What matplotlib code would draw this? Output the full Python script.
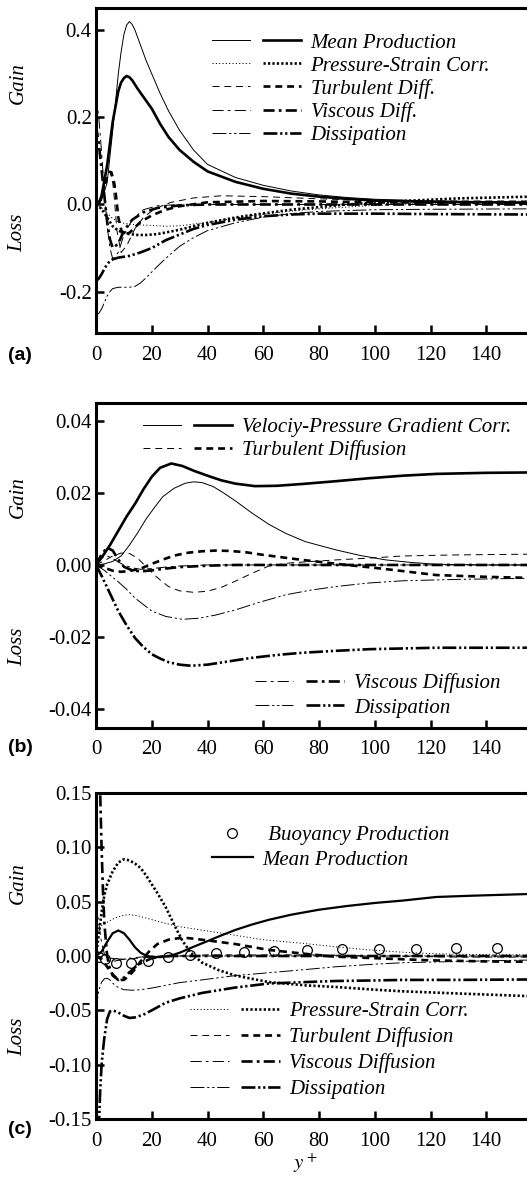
import matplotlib
matplotlib.use("Agg")
import matplotlib.pyplot as plt
from matplotlib.legend_handler import HandlerTuple
from matplotlib.ticker import FormatStrFormatter

plt.rcParams['font.family'] = ['Liberation Serif', 'DejaVu Serif']
plt.rcParams['mathtext.fontset'] = 'stix'
plt.rcParams['axes.unicode_minus'] = False
plt.rcParams['lines.scale_dashes'] = False

# ---------------- panel (a) data ----------------
a_prod_thin_x = [0, 2, 4, 6, 8, 9, 10, 11, 12, 13, 14, 16, 18, 20, 23, 26, 30, 35, 40, 50, 60, 70, 80, 90, 100, 120, 140, 156]
a_prod_thin_y = [0, 0.01, 0.05, 0.17, 0.30, 0.35, 0.39, 0.412, 0.42, 0.413, 0.40, 0.365, 0.33, 0.30, 0.255, 0.215,
                 0.17, 0.125, 0.092, 0.062, 0.044, 0.031, 0.022, 0.016, 0.012, 0.008, 0.006, 0.005]
a_prod_thick_x = [0, 1, 2, 4, 6, 8, 9, 10, 11, 12, 13, 15, 17, 20, 23, 26, 30, 35, 40, 50, 60, 70, 80, 90, 100, 120, 140, 156]
a_prod_thick_y = [0, 0.003, 0.02, 0.09, 0.19, 0.26, 0.28, 0.29, 0.295, 0.292, 0.285, 0.265, 0.247, 0.22, 0.185,
                  0.155, 0.125, 0.098, 0.076, 0.052, 0.036, 0.025, 0.018, 0.013, 0.009, 0.006, 0.005, 0.004]

a_ps_thin_x = [0, 2, 4, 6, 8, 10, 12, 16, 20, 25, 30, 40, 50, 60, 70, 80, 90, 100, 115, 130, 156]
a_ps_thin_y = [0, -0.008, -0.02, -0.032, -0.04, -0.043, -0.045, -0.047, -0.048, -0.05, -0.049, -0.041, -0.031,
               -0.022, -0.015, -0.01, -0.006, -0.002, 0.002, 0.005, 0.008]
a_ps_thick_x = [0, 2, 4, 6, 8, 10, 12, 15, 18, 22, 26, 30, 35, 40, 50, 55, 70, 90, 110, 130, 156]
a_ps_thick_y = [0, -0.01, -0.03, -0.05, -0.06, -0.065, -0.068, -0.07, -0.07, -0.068, -0.063, -0.058, -0.05,
                -0.042, -0.03, -0.025, -0.012, 0.0, 0.008, 0.014, 0.018]

a_turb_thin_x = [0, 1, 2, 3, 4, 5, 6, 6.5, 7.5, 9, 11, 14, 17, 20, 24, 27, 35, 45, 60, 80, 100, 130, 156]
a_turb_thin_y = [0, 0.003, 0.015, 0.04, 0.068, 0.076, 0.05, 0.02, -0.06, -0.11, -0.095, -0.055, -0.03, -0.015,
                 -0.002, 0.005, 0.015, 0.02, 0.018, 0.013, 0.009, 0.008, 0.008]
a_turb_thick_x = [0, 1, 2, 3, 4, 5, 5.5, 6.5, 7, 8, 9.5, 12, 16, 20, 25, 30, 40, 60, 80, 100, 130, 156]
a_turb_thick_y = [0, 0.003, 0.015, 0.04, 0.065, 0.075, 0.074, 0.05, 0.03, -0.03, -0.07, -0.065, -0.04, -0.025,
                  -0.012, -0.004, 0.005, 0.008, 0.007, 0.005, 0.004, 0.004]

a_visc_thin_x = [0, 1, 2, 3, 4, 5, 6, 8, 10, 13, 17, 22, 30, 156]
a_visc_thin_y = [0.25, 0.2, 0.12, 0.03, -0.05, -0.1, -0.125, -0.11, -0.07, -0.035, -0.012, -0.003, 0, 0]
a_visc_thick_x = [0, 1, 2, 3, 4, 5, 6, 8, 10, 13, 17, 22, 30, 40, 156]
a_visc_thick_y = [0.18, 0.14, 0.08, 0.02, -0.04, -0.08, -0.1, -0.09, -0.06, -0.035, -0.018, -0.008, -0.002, 0, 0]

a_diss_thin_x = [0, 1, 2, 3, 4, 5, 6, 8, 10, 12, 14, 16, 18, 20, 23, 26, 30, 35, 40, 50, 60, 70, 80, 100, 120, 156]
a_diss_thin_y = [-0.252, -0.25, -0.24, -0.225, -0.21, -0.2, -0.193, -0.19, -0.19, -0.19, -0.188, -0.18, -0.168,
                 -0.155, -0.136, -0.118, -0.096, -0.076, -0.06, -0.042, -0.029, -0.021, -0.016, -0.012, -0.011, -0.01]
a_diss_thick_x = [0, 1, 2, 3, 4, 5, 6, 8, 10, 12, 14, 16, 20, 25, 30, 35, 40, 50, 60, 70, 80, 100, 120, 156]
a_diss_thick_y = [-0.176, -0.17, -0.16, -0.148, -0.137, -0.13, -0.126, -0.122, -0.12, -0.118, -0.114, -0.11,
                  -0.1, -0.082, -0.069, -0.056, -0.047, -0.035, -0.027, -0.023, -0.021, -0.021, -0.022, -0.023]

# ---------------- panel (b) data ----------------
b_vpg_thin_x = [0, 3, 6, 9, 12, 15, 18, 21, 24, 28, 32, 35, 38, 42, 46, 50, 56, 62, 68, 75, 86, 95, 104, 113, 122, 140, 156]
b_vpg_thin_y = [0, 0.0003, 0.001, 0.0025, 0.0055, 0.009, 0.0128, 0.016, 0.019, 0.0213, 0.0227, 0.0231, 0.0229,
                0.0218, 0.0199, 0.0178, 0.0144, 0.0113, 0.0088, 0.0065, 0.0042, 0.0026, 0.0014, 0.0007, 0.0002, 0.0, 0.0]
b_vpg_thick_x = [0, 2, 5, 8, 11, 14, 17, 20, 23, 27, 31, 35, 40, 45, 50, 57, 65, 74, 85, 98, 110, 122, 140, 156]
b_vpg_thick_y = [0, 0.002, 0.0055, 0.0095, 0.0135, 0.017, 0.021, 0.0245, 0.027, 0.0282, 0.0275, 0.0262, 0.0248,
                 0.0235, 0.0226, 0.0219, 0.022, 0.0225, 0.0232, 0.0241, 0.0248, 0.0253, 0.0256, 0.0257]

b_turb_thin_x = [0, 3, 6, 9, 12, 15, 18, 22, 26, 30, 35, 40, 45, 50, 56, 62, 70, 86, 100, 110, 130, 156]
b_turb_thin_y = [0, 0.0012, 0.0025, 0.0033, 0.0032, 0.0018, -0.0005, -0.0035, -0.006, -0.0072, -0.0076, -0.0073,
                 -0.0062, -0.0045, -0.0023, -0.0003, 0.0006, 0.0014, 0.002, 0.0025, 0.0028, 0.003]
b_turb_thick_x = [0, 3, 6, 9, 12, 16, 20, 24, 28, 33, 38, 43, 48, 54, 60, 67, 74, 82, 90, 100, 110, 122, 140, 156]
b_turb_thick_y = [0, -0.0008, -0.0016, -0.0019, -0.0017, -0.001, 0.0003, 0.0015, 0.0026, 0.0034, 0.0038, 0.004,
                  0.0039, 0.0035, 0.0028, 0.0021, 0.0014, 0.0007, 0.0, -0.0008, -0.0017, -0.0028, -0.0033, -0.0036]

b_visc_thin_x = [0, 2, 4, 6, 8, 10, 13, 16, 20, 25, 30, 40, 156]
b_visc_thin_y = [0, 0.002, 0.0025, 0.0018, 0.0008, 0, -0.0008, -0.0012, -0.001, -0.0006, -0.0003, 0, 0]
b_visc_thick_x = [0, 2, 4, 6, 8, 10, 13, 16, 20, 25, 30, 40, 50, 156]
b_visc_thick_y = [0, 0.003, 0.0048, 0.004, 0.0015, -0.0005, -0.0015, -0.0018, -0.0015, -0.001, -0.0006, -0.0002, 0, 0]

b_diss_thin_x = [0, 3, 5, 8, 11, 14, 17, 20, 25, 31, 37, 43, 50, 58, 68, 77, 86, 98, 110, 130, 156]
b_diss_thin_y = [0, -0.0015, -0.0028, -0.0047, -0.0068, -0.0092, -0.011, -0.0128, -0.0143, -0.0151, -0.0148,
                 -0.0139, -0.0125, -0.0105, -0.0083, -0.007, -0.006, -0.005, -0.0044, -0.004, -0.0037]
b_diss_thick_x = [0, 2, 5, 8, 11, 14, 17, 20, 23, 26, 30, 34, 40, 45, 50, 56, 65, 74, 85, 98, 110, 122, 140, 156]
b_diss_thick_y = [0, -0.003, -0.0079, -0.0128, -0.0168, -0.0203, -0.0228, -0.0248, -0.026, -0.027, -0.0277, -0.028,
                  -0.0277, -0.0271, -0.0265, -0.0258, -0.025, -0.0244, -0.0239, -0.0234, -0.0232, -0.023, -0.023, -0.023]

# ---------------- panel (c) data ----------------
c_buoy_x = [0, 1.2, 3.4, 7.3, 12.4, 18.5, 25.7, 33.8, 43.1, 53.1, 64, 75.8, 88.2, 101.5, 114.9, 129.1, 143.8]
c_buoy_y = [0, -0.001, -0.003, -0.0062, -0.006, -0.0046, -0.0012, 0.0006, 0.003, 0.004, 0.005, 0.0058, 0.0062,
            0.0065, 0.0068, 0.007, 0.0073]

c_prod_x = [0, 2, 4, 6, 8, 10, 12, 14, 16, 18, 20, 23, 26, 30, 35, 40, 45, 50, 56, 62, 70, 80, 90, 100, 110, 122, 135, 156]
c_prod_y = [0, 0.004, 0.013, 0.021, 0.0235, 0.021, 0.015, 0.008, 0.003, 0.0003, -0.0008, -0.001, -0.0003, 0.003,
            0.0085, 0.0137, 0.019, 0.024, 0.029, 0.0333, 0.038, 0.0426, 0.046, 0.0488, 0.051, 0.0543, 0.0555, 0.0571]

c_ps_thin_x = [0, 2, 4, 6, 8, 10, 12, 15, 20, 25, 30, 40, 50, 60, 74, 86, 98, 110, 122, 140, 156]
c_ps_thin_y = [0.02, 0.028, 0.031, 0.034, 0.036, 0.0375, 0.038, 0.037, 0.0335, 0.030, 0.027, 0.023, 0.019, 0.015,
               0.0117, 0.0085, 0.0056, 0.0035, 0.002, 0.0012, 0.001]
c_ps_thick_x = [0, 1, 2, 3, 4, 6, 8, 10, 12, 14, 16, 18, 20, 22, 25, 28, 31, 34, 38, 44, 50, 62, 75, 86, 100, 110, 130, 156]
c_ps_thick_y = [0.0, 0.02, 0.04, 0.056, 0.066, 0.078, 0.086, 0.089, 0.088, 0.085, 0.081, 0.074, 0.066, 0.058,
                0.045, 0.029, 0.014, 0.003, -0.006, -0.013, -0.018, -0.024, -0.027, -0.0285, -0.031, -0.0325,
                -0.0345, -0.037]

c_turb_thin_x = [0, 5, 10, 15, 20, 30, 40, 60, 80, 100, 130, 156]
c_turb_thin_y = [0, -0.002, -0.003, -0.002, -0.001, 0, 0.001, 0.001, 0.001, 0.0, -0.001, -0.001]
c_turb_thick_x = [0, 2, 4, 6, 8, 10, 12, 14, 16, 19, 22, 26, 30, 33, 38, 44, 50, 62, 75, 86, 100, 120, 140, 156]
c_turb_thick_y = [0, -0.003, -0.01, -0.017, -0.022, -0.022, -0.018, -0.012, -0.005, 0.004, 0.011, 0.015, 0.0165,
                  0.0165, 0.015, 0.013, 0.011, 0.0056, 0.002, -0.0006, -0.002, -0.004, -0.005, -0.0053]

c_visc_thin_x = [0, 1, 2, 3, 4, 6, 8, 12, 16, 20, 30, 156]
c_visc_thin_y = [0.05, 0.03, 0.012, 0.002, -0.004, -0.005, -0.004, -0.002, -0.001, 0, 0, 0]
c_visc_thick_x = [0, 1, 1.5, 2, 2.5, 3, 4, 5, 6, 8, 10, 12, 15, 20, 25, 30, 156]
c_visc_thick_y = [0.25, 0.2, 0.15, 0.1, 0.06, 0.03, 0.0, -0.012, -0.018, -0.022, -0.02, -0.015, -0.008, -0.002, 0, 0, 0]

c_diss_thin_x = [0, 0.5, 1, 2, 3, 4, 5, 6, 8, 10, 13, 16, 20, 25, 30, 38, 50, 62, 75, 86, 100, 110, 130, 156]
c_diss_thin_y = [-0.05, -0.04, -0.032, -0.024, -0.021, -0.0205, -0.022, -0.025, -0.029, -0.031, -0.0315, -0.031,
                 -0.0295, -0.027, -0.0245, -0.022, -0.018, -0.0154, -0.0125, -0.0099, -0.0075, -0.0062, -0.005, -0.0037]
c_diss_thick_x = [0, 0.5, 1, 1.5, 2, 2.5, 3, 4, 5, 6, 8, 10, 12, 14, 17, 20, 25, 30, 38, 50, 62, 75, 86, 100, 110, 130, 156]
c_diss_thick_y = [-0.25, -0.2, -0.16, -0.124, -0.1, -0.087, -0.075, -0.058, -0.051, -0.05, -0.052, -0.055, -0.057,
                  -0.0565, -0.054, -0.05, -0.043, -0.039, -0.034, -0.029, -0.0253, -0.024, -0.023, -0.0225, -0.022,
                  -0.022, -0.0216]

xticks = [0, 20, 40, 60, 80, 100, 120, 140]

# line styles (dash lengths in points)
THIN = 0.7
THICK = 1.9
dot_thin = (0, (0.8, 1.6))
dot_thick = (0, (1.6, 1.6))
dash = (0, (5, 3.5))
dashdot = (0, (8, 3, 2, 3))
dashdotdot = (0, (10, 2, 1.6, 2, 1.6, 2))

W, H = 527, 1182
fig = plt.figure(figsize=(W / 100, H / 100), dpi=100)


def add_panel(top, bottom):
    return fig.add_axes([96 / W, 1 - bottom / H, (W - 96) / W + 0.01, (bottom - top) / H])


def style(ax, ylim, yticks, fmt):
    ax.set_xlim(0, 156.5)
    ax.set_ylim(*ylim)
    ax.set_xticks(xticks)
    ax.set_yticks(yticks)
    ax.yaxis.set_major_formatter(FormatStrFormatter(fmt))
    ax.spines['right'].set_visible(False)
    for s in ['left', 'bottom', 'top']:
        ax.spines[s].set_linewidth(2.2)
    ax.tick_params(direction='in', length=6, width=1.8, labelsize=15, top=False, right=False)
    ax.tick_params(axis='x', pad=9)
    ax.tick_params(axis='y', pad=3)


def pair(ax, xt, yt, xk, yk, ls_thin, ls_thick=None):
    if ls_thick is None:
        ls_thick = ls_thin
    l1, = ax.plot(xt, yt, color='black', lw=THIN, linestyle=ls_thin)
    l2, = ax.plot(xk, yk, color='black', lw=THICK, linestyle=ls_thick)
    return (l1, l2)


def leg_kw(spacing):
    return dict(frameon=False, borderpad=0, borderaxespad=0, handletextpad=0.45, labelspacing=spacing,
                prop={'family': 'Liberation Serif', 'style': 'italic', 'size': 15})


tuple_map = {tuple: HandlerTuple(ndivide=None, pad=0.6)}

# ---------------- panel (a) ----------------
ax = add_panel(8, 333)
h_prod = pair(ax, a_prod_thin_x, a_prod_thin_y, a_prod_thick_x, a_prod_thick_y, '-')
h_ps = pair(ax, a_ps_thin_x, a_ps_thin_y, a_ps_thick_x, a_ps_thick_y, dot_thin, dot_thick)
h_turb = pair(ax, a_turb_thin_x, a_turb_thin_y, a_turb_thick_x, a_turb_thick_y, dash)
h_visc = pair(ax, a_visc_thin_x, a_visc_thin_y, a_visc_thick_x, a_visc_thick_y, dashdot)
h_diss = pair(ax, a_diss_thin_x, a_diss_thin_y, a_diss_thick_x, a_diss_thick_y, dashdotdot)
style(ax, (-0.295, 0.451), [-0.2, 0.0, 0.2, 0.4], '%.1f')
ax.legend([h_prod, h_ps, h_turb, h_visc, h_diss],
          ['Mean Production', 'Pressure-Strain Corr.', 'Turbulent Diff.', 'Viscous Diff.', 'Dissipation'],
          loc='upper left', bbox_to_anchor=(0.265, 0.923), handlelength=4.3, handler_map=tuple_map,
          **leg_kw(0.16))

# ---------------- panel (b) ----------------
ax = add_panel(403, 728)
h_vpg = pair(ax, b_vpg_thin_x, b_vpg_thin_y, b_vpg_thick_x, b_vpg_thick_y, '-')
h_turb = pair(ax, b_turb_thin_x, b_turb_thin_y, b_turb_thick_x, b_turb_thick_y, dash)
h_visc = pair(ax, b_visc_thin_x, b_visc_thin_y, b_visc_thick_x, b_visc_thick_y, dashdot)
h_diss = pair(ax, b_diss_thin_x, b_diss_thin_y, b_diss_thick_x, b_diss_thick_y, dashdotdot)
style(ax, (-0.0453, 0.045), [-0.04, -0.02, 0.0, 0.02, 0.04], '%.2f')
leg1 = ax.legend([h_vpg, h_turb], ['Velociy-Pressure Gradient Corr.', 'Turbulent Diffusion'],
                 loc='upper left', bbox_to_anchor=(0.107, 0.955), handlelength=4.3, handler_map=tuple_map,
                 **leg_kw(0.16))
ax.add_artist(leg1)
ax.legend([h_visc, h_diss], ['Viscous Diffusion', 'Dissipation'],
          loc='upper left', bbox_to_anchor=(0.364, 0.169), handlelength=4.3, handler_map=tuple_map,
          **leg_kw(0.25))

# ---------------- panel (c) ----------------
ax = add_panel(793, 1119)
h_buoy, = ax.plot(c_buoy_x, c_buoy_y, linestyle='none', marker='o', ms=7, mfc='white', mec='black', mew=0.9)
h_mp, = ax.plot(c_prod_x, c_prod_y, color='black', lw=1.6)
h_ps = pair(ax, c_ps_thin_x, c_ps_thin_y, c_ps_thick_x, c_ps_thick_y, dot_thin, dot_thick)
h_turb = pair(ax, c_turb_thin_x, c_turb_thin_y, c_turb_thick_x, c_turb_thick_y, dash)
h_visc = pair(ax, c_visc_thin_x, c_visc_thin_y, c_visc_thick_x, c_visc_thick_y, dashdot)
h_diss = pair(ax, c_diss_thin_x, c_diss_thin_y, c_diss_thick_x, c_diss_thick_y, dashdotdot)
style(ax, (-0.15, 0.15), [-0.15, -0.10, -0.05, 0.0, 0.05, 0.10, 0.15], '%.2f')
leg1 = ax.legend([h_buoy, h_mp], [' Buoyancy Production', 'Mean Production'],
                 loc='upper left', bbox_to_anchor=(0.265, 0.901), handlelength=2.0, **leg_kw(0.25))
ax.add_artist(leg1)
ax.legend([h_ps, h_turb, h_visc, h_diss],
          ['Pressure-Strain Corr.', 'Turbulent Diffusion', 'Viscous Diffusion', 'Dissipation'],
          loc='upper left', bbox_to_anchor=(0.216, 0.361), handlelength=4.3, handler_map=tuple_map,
          **leg_kw(0.3))

# side labels
for yg, yl in [(83, 233), (497, 647), (883, 1037)]:
    fig.text(18 / W, 1 - yg / H, 'Gain', rotation=90, ha='center', va='center', fontsize=15, style='italic')
    fig.text(18 / W, 1 - yl / H, 'Loss', rotation=90, ha='center', va='center', fontsize=15, style='italic')
for lab, yp in [('(a)', 355), ('(b)', 748), ('(c)', 1130)]:
    fig.text(20 / W, 1 - yp / H, lab, ha='center', va='center', fontsize=14, fontweight='bold',
             family='Liberation Sans')
fig.text(305 / W, 1 - 1163 / H, '$y^+$', ha='center', va='center', fontsize=15)

fig.savefig('out.png', dpi=100)
